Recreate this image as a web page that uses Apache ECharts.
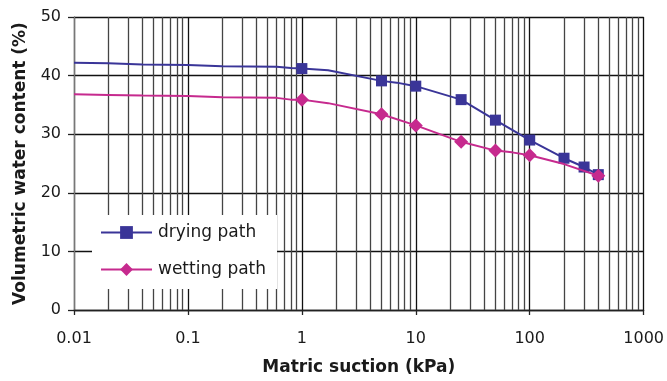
<!DOCTYPE html>
<html>
<head>
<meta charset="utf-8">
<script src="https://cdn.jsdelivr.net/npm/echarts@6/dist/echarts.min.js"></script>
<style>
  html, body { margin: 0; padding: 0; background: #fff; }
  #chart { width: 667px; height: 381px; }
</style>
</head>
<body>
<div id="chart"></div>
<script>
// matric suction (kPa) / volumetric water content (%)
const dryingSuction = [0.01, 0.02, 0.04, 0.1, 0.2, 0.6, 0.8, 1, 1.7, 5, 6.8, 10, 25, 50, 100, 200, 300, 400];
const dryingContent = [42.2, 42.1, 41.9, 41.8, 41.6, 41.5, 41.3, 41.2, 40.9, 39.1, 38.8, 38.2, 35.9, 32.4, 29.0, 25.9, 24.4, 23.1];
const dryingMarked  = [0, 0, 0, 0, 0, 0, 0, 1, 0, 1, 0, 1, 1, 1, 1, 1, 1, 1];

const wettingSuction = [0.01, 0.02, 0.04, 0.1, 0.2, 0.6, 0.8, 1, 1.7, 5, 10, 25, 50, 70, 100, 200, 400];
const wettingContent = [36.8, 36.7, 36.6, 36.5, 36.3, 36.2, 35.9, 35.9, 35.3, 33.4, 31.5, 28.7, 27.2, 26.9, 26.4, 24.9, 22.9];
const wettingMarked  = [0, 0, 0, 0, 0, 0, 0, 1, 0, 1, 1, 1, 1, 0, 1, 0, 1];

const xTicks = [0.01, 0.1, 1, 10, 100, 1000];
const yTicks = [0, 10, 20, 30, 40, 50];
// minor log grid lines (2..9 in each decade)
const minorLines = [
  0.02, 0.03, 0.04, 0.05, 0.06, 0.07, 0.08, 0.09,
  0.2, 0.3, 0.4, 0.5, 0.6, 0.7, 0.8, 0.9,
  2, 3, 4, 5, 6, 7, 8, 9,
  20, 30, 40, 50, 60, 70, 80, 90,
  200, 300, 400, 500, 600, 700, 800, 900
];

const FONT = "DejaVu Sans";

function points(xs, ys, marked) {
  return xs.map((x, i) => {
    const item = { value: [x, ys[i]] };
    if (!marked[i]) item.symbol = "none";
    return item;
  });
}

function fmt(v) {
  const hit = xTicks.find(t => Math.abs(Math.log10(t) - Math.log10(v)) < 1e-6);
  return hit === undefined ? "" : String(hit);
}

const chart = echarts.init(document.getElementById("chart"), null, { renderer: "canvas" });

const option = {
  backgroundColor: "#fff",
  animation: false,
  grid: { left: 74, right: 23, top: 17, bottom: 67 },
  legend: {
    data: ["drying path", "wetting path"],
    orient: "vertical",
    left: 92,
    top: 215,
    padding: [9, 11, 11, 8],
    itemGap: 20,
    itemWidth: 51,
    itemHeight: 16,
    z: 10,
    backgroundColor: "#fff",
    textStyle: { fontFamily: FONT, fontSize: 17, color: "#1a1a1a", padding: [0, 0, 0, 1] }
  },
  xAxis: {
    type: "log",
    logBase: 10,
    min: 0.01,
    max: 1000,
    name: "Matric suction (kPa)",
    nameLocation: "middle",
    nameGap: 49,
    nameTextStyle: { fontFamily: FONT, fontSize: 17, fontWeight: "bold", color: "#1a1a1a" },
    axisLine: { show: true, onZero: false, lineStyle: { color: "#222", width: 1.3 } },
    axisTick: { show: true, length: 5, lineStyle: { color: "#222", width: 1.3 } },
    axisLabel: { fontFamily: FONT, fontSize: 16, color: "#1a1a1a", margin: 21, formatter: fmt },
    splitLine: { show: true, lineStyle: { color: "#111", width: 1.3 } }
  },
  yAxis: {
    type: "value",
    min: 0,
    max: 50,
    interval: 10,
    name: "Volumetric water content (%)",
    nameLocation: "middle",
    nameGap: 45,
    nameTextStyle: { fontFamily: FONT, fontSize: 17, fontWeight: "bold", color: "#1a1a1a" },
    axisLine: { show: true, lineStyle: { color: "#777", width: 1.3 } },
    axisTick: { show: true, length: 6, lineStyle: { color: "#222", width: 1.3 } },
    axisLabel: { fontFamily: FONT, fontSize: 16, color: "#1a1a1a", margin: 13 },
    splitLine: { show: true, lineStyle: { color: "#111", width: 1.3 } }
  },
  series: [
    {
      name: "minor grid",
      type: "line",
      data: [],
      silent: true,
      z: 1,
      markLine: {
        silent: true,
        z: 1,
        symbol: "none",
        label: { show: false },
        lineStyle: { color: "#444", width: 1.3, type: "solid" },
        emphasis: { disabled: true },
        data: minorLines.map(v => ({ xAxis: v }))
      }
    },
    {
      name: "drying path",
      type: "line",
      z: 3,
      data: points(dryingSuction, dryingContent, dryingMarked),
      symbol: "rect",
      symbolSize: 11,
      color: "#3a3598",
      lineStyle: { width: 2, color: "#3a3598" },
      itemStyle: { color: "#3a3598" }
    },
    {
      name: "wetting path",
      type: "line",
      z: 4,
      data: points(wettingSuction, wettingContent, wettingMarked),
      symbol: "diamond",
      symbolSize: 14,
      color: "#c62a8e",
      lineStyle: { width: 2, color: "#c62a8e" },
      itemStyle: { color: "#c62a8e" }
    }
  ]
};

chart.setOption(option);
</script>
</body>
</html>
